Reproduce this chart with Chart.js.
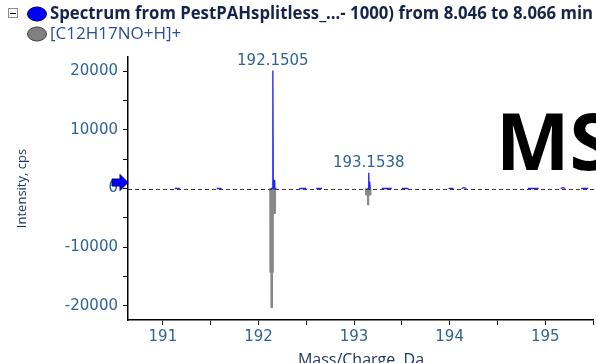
<!DOCTYPE html>
<html>
<head>
<meta charset="utf-8">
<script src="https://cdn.jsdelivr.net/npm/chart.js@4"></script>
<style>
html, body { margin: 0; padding: 0; background: #fff; overflow: hidden; }
#wrap { position: relative; width: 596px; height: 363px; }
</style>
</head>
<body>
<div id="wrap"><canvas id="msChart" width="596" height="363"></canvas></div>
<script>
const legendLabels = ["Spectrum from PestPAHsplitless_...- 1000) from 8.046 to 8.066 min", "[C12H17NO+H]+"];
const xMajorTicks = [191, 192, 193, 194, 195];
const xMinorTicks = [191.5, 192.5, 193.5, 194.5, 195.5];
const yMajorTicks = [-20000, -10000, 0, 10000, 20000];
const yMinorTicks = [-15000, -5000, 5000, 15000];
const peakLabelMz = [192.1505, 193.1538];
const peakLabelInt = [20100, 2700];

// measured spectrum (blue), null = gap in the trace
const measuredMz = [191.125, 191.177, 191.18,
  191.562, 191.614, 191.62,
  192.130, 192.146, 192.1505, 192.155, 192.158, 192.166, 192.170, 192.187, 192.19,
  192.427, 192.500, 192.51,
  192.604, 192.666, 192.67,
  193.140, 193.149, 193.1538, 193.158, 193.160, 193.166, 193.170, 193.18,
  193.290, 193.395, 193.40,
  193.500, 193.570, 193.58,
  193.990, 194.040, 194.05,
  194.125, 194.150, 194.177, 194.18,
  194.820, 194.930, 194.94,
  195.160, 195.185, 195.210, 195.22,
  195.375, 195.450];
const measuredInt = [0, 0, null,
  0, 0, null,
  0, 0, 20100, 0, 1400, 1400, 0, 0, null,
  0, 0, null,
  0, 0, null,
  0, 0, 2700, 0, 1200, 1200, 0, null,
  0, 0, null,
  0, 0, null,
  0, 0, null,
  0, 150, 0, null,
  0, 0, null,
  0, 150, 0, null,
  0, 0];

// theoretical isotope pattern (gray), drawn downward
const theoryMz = [192.122, 192.123, 192.133, 192.134, 192.146, 192.147, 192.154, 192.155, 192.178, 192.179, 192.18,
  193.123, 193.124, 193.142, 193.143, 193.153, 193.154, 193.176, 193.177];
const theoryInt = [0, -14300, -14300, -20300, -20300, -14300, -14300, -4250, -4250, 0, null,
  0, -1100, -1100, -2800, -2800, -1100, -1100, 0];

const tickColor = '#2d6596';
const tickFont = { family: 'DejaVu Sans', size: 15 };

function toPoints(xs, ys) {
  return xs.map((x, i) => ({ x: x, y: ys[i] }));
}

const decorations = {
  id: 'decorations',
  afterDatasetsDraw(chart) {
    const { ctx, chartArea, scales } = chart;
    const y0 = scales.y.getPixelForValue(0);
    ctx.save();
    // dashed zero line
    ctx.strokeStyle = '#3a3a3a';
    ctx.lineWidth = 1;
    ctx.setLineDash([4, 3]);
    ctx.beginPath();
    ctx.moveTo(chartArea.left, Math.round(y0) + 0.5);
    ctx.lineTo(chartArea.right, Math.round(y0) + 0.5);
    ctx.stroke();
    ctx.setLineDash([]);
    // peak labels
    ctx.fillStyle = tickColor;
    ctx.font = '15px "DejaVu Sans"';
    ctx.textAlign = 'center';
    ctx.textBaseline = 'alphabetic';
    peakLabelMz.forEach((mz, i) => {
      const px = scales.x.getPixelForValue(mz);
      const py = scales.y.getPixelForValue(peakLabelInt[i]);
      ctx.fillText(mz.toFixed(4), px, py - 6);
    });
    ctx.restore();
  },
  afterDraw(chart) {
    const { ctx, chartArea, scales } = chart;
    const y0 = scales.y.getPixelForValue(0);
    const l = chartArea.left;
    ctx.save();
    // baseline marker arrow
    const yc = y0 - 6;
    ctx.fillStyle = '#0000ff';
    ctx.strokeStyle = '#000080';
    ctx.lineWidth = 1;
    ctx.beginPath();
    ctx.moveTo(l - 16, yc - 3.5);
    ctx.lineTo(l - 8, yc - 3.5);
    ctx.lineTo(l - 8, yc - 8);
    ctx.lineTo(l, yc);
    ctx.lineTo(l - 8, yc + 8);
    ctx.lineTo(l - 8, yc + 3.5);
    ctx.lineTo(l - 16, yc + 3.5);
    ctx.closePath();
    ctx.fill();
    ctx.stroke();

    // legend
    ctx.strokeStyle = '#8c8c8c';
    ctx.strokeRect(8.5, 8.5, 9, 9);
    ctx.strokeStyle = '#000';
    ctx.beginPath();
    ctx.moveTo(10, 13.5);
    ctx.lineTo(16, 13.5);
    ctx.stroke();

    const dots = ['#0000ff', '#808080'];
    const rims = ['#00005a', '#404040'];
    dots.forEach((c, i) => {
      ctx.fillStyle = c;
      ctx.strokeStyle = rims[i];
      ctx.beginPath();
      ctx.ellipse(37, 14 + i * 20, 9.5, 7, 0, 0, Math.PI * 2);
      ctx.fill();
      ctx.stroke();
    });
    ctx.textAlign = 'left';
    ctx.textBaseline = 'middle';
    ctx.fillStyle = '#16244a';
    ctx.font = 'bold 17px "Open Sans"';
    ctx.fillText(legendLabels[0], 50, 14, 543);
    ctx.fillStyle = '#2a4f95';
    ctx.font = '17px "Open Sans"';
    ctx.fillText(legendLabels[1], 50, 34);

    // big label
    ctx.fillStyle = '#000';
    ctx.font = 'bold 78px "Open Sans"';
    ctx.textBaseline = 'alphabetic';
    ctx.fillText('MS', 496, 170);
    ctx.restore();
  }
};

const ctx = document.getElementById('msChart').getContext('2d');
new Chart(ctx, {
  type: 'scatter',
  data: {
    datasets: [{
      label: legendLabels[0],
      data: toPoints(measuredMz, measuredInt),
      showLine: true,
      spanGaps: false,
      borderColor: '#1f1fff',
      borderWidth: 1.3,
      pointRadius: 0,
      fill: false
    }, {
      label: legendLabels[1],
      data: toPoints(theoryMz, theoryInt),
      showLine: true,
      spanGaps: false,
      borderColor: '#878787',
      backgroundColor: '#878787',
      borderWidth: 1,
      pointRadius: 0,
      fill: 'origin'
    }]
  },
  options: {
    responsive: false,
    animation: false,
    layout: { padding: { top: 57, left: 0, right: 0, bottom: 0 } },
    plugins: {
      legend: { display: false },
      tooltip: { enabled: false }
    },
    scales: {
      x: {
        type: 'linear',
        min: 190.635,
        max: 195.51,
        afterBuildTicks: function(scale) {
          scale.ticks = xMajorTicks.concat(xMinorTicks).sort((a, b) => a - b).map(v => ({ value: v }));
        },
        afterFit: function(scale) { scale.height = 43; },
        border: { display: true, color: '#000', width: 1.5 },
        grid: { display: true, drawOnChartArea: false, drawTicks: true, tickLength: 5, tickColor: '#000' },
        ticks: {
          autoSkip: false,
          maxRotation: 0,
          padding: 3,
          color: tickColor,
          font: tickFont,
          callback: function(value) { return xMajorTicks.includes(value) ? String(value) : ''; }
        },
        title: {
          display: true,
          text: 'Mass/Charge, Da',
          color: '#1f3560',
          font: { family: 'Open Sans', size: 16 },
          padding: { top: 0, bottom: -7 }
        }
      },
      y: {
        type: 'linear',
        min: -22400,
        max: 22400,
        afterBuildTicks: function(scale) {
          scale.ticks = yMajorTicks.concat(yMinorTicks).sort((a, b) => a - b).map(v => ({ value: v }));
        },
        afterFit: function(scale) { scale.width = 128; },
        border: { display: true, color: '#000', width: 1.5 },
        grid: { display: true, drawOnChartArea: false, drawTicks: true, tickLength: 5, tickColor: '#000' },
        ticks: {
          autoSkip: false,
          padding: 5,
          color: tickColor,
          font: tickFont,
          callback: function(value) { return yMajorTicks.includes(value) ? String(value) : ''; }
        },
        title: {
          display: true,
          text: 'Intensity, cps',
          color: '#1f3560',
          font: { family: 'Open Sans', size: 13 },
          padding: { top: 14, bottom: 0 }
        }
      }
    }
  },
  plugins: [decorations]
});
</script>
</body>
</html>
